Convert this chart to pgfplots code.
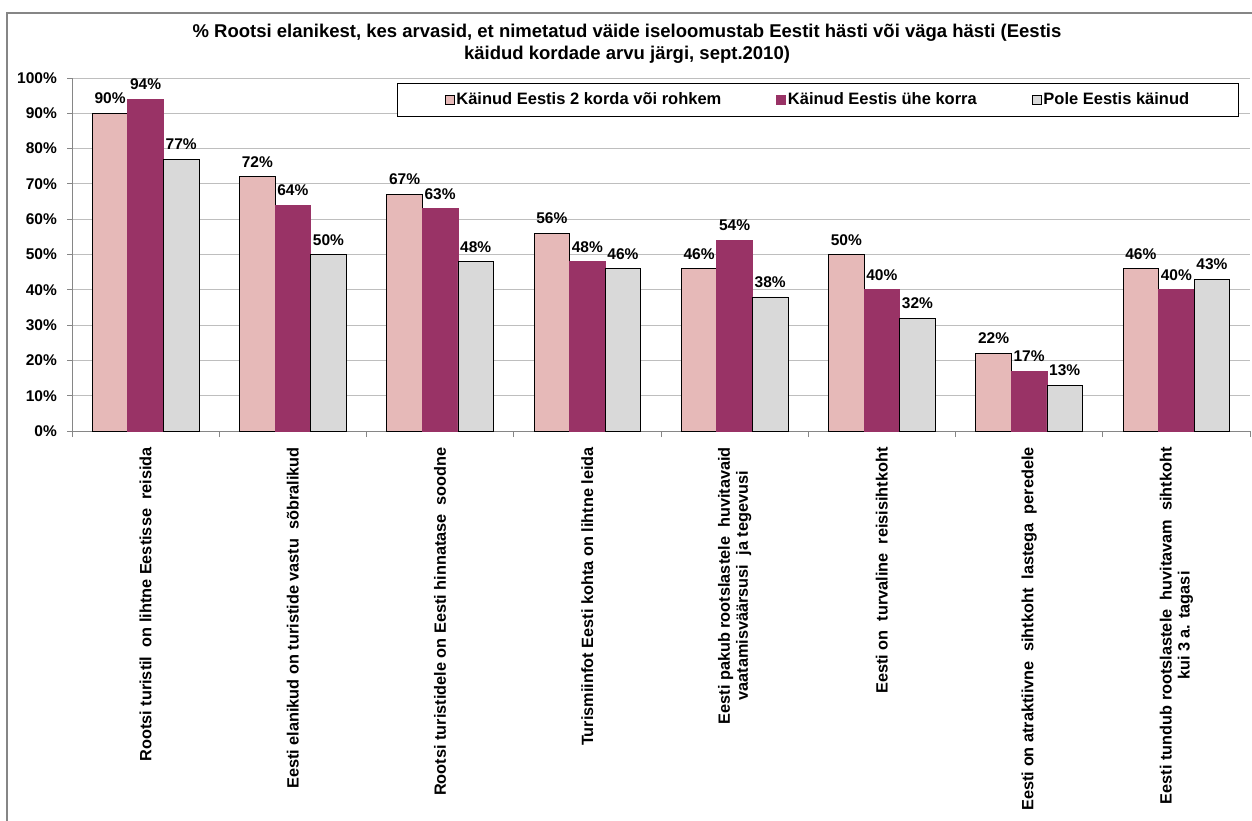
\documentclass[border=0pt]{standalone}
\usepackage{pgfplots}
\pgfplotsset{compat=1.18}
\usepackage{fontspec}
\setmainfont{Liberation Sans}
\definecolor{cpink}{HTML}{E6B9B8}
\definecolor{cmag}{HTML}{993366}
\definecolor{cgrey}{HTML}{D9D9D9}
\definecolor{cgrid}{HTML}{BEBEBE}
\definecolor{caxis}{HTML}{868686}
\begin{document}
\begin{tikzpicture}
\useasboundingbox (0,0) rectangle (1252bp,-821bp);
\fill[white] (0,0) rectangle (1252bp,-821bp);
\draw[caxis, line width=1.2bp] (7bp,-821bp) -- (7bp,-13bp) -- (1252bp,-13bp);
\node[font=\fontsize{18.5bp}{22bp}\selectfont\bfseries, align=center] at (627bp,-44bp)
 {\% Rootsi elanikest, kes arvasid, et nimetatud väide iseloomustab Eestit hästi või väga hästi (Eestis\\käidud kordade arvu järgi, sept.2010)};
\begin{axis}[
  at={(72bp,-431bp)}, anchor=south west,
  width=1178bp, height=353bp, scale only axis,
  xmin=-0.5, xmax=7.5, ymin=0, ymax=100,
  axis lines*=left,
  axis line style={draw=caxis, line width=1bp},
  ytick={0,10,...,100},
  yticklabels={0\%,10\%,20\%,30\%,40\%,50\%,60\%,70\%,80\%,90\%,100\%},
  ymajorgrids, grid style={draw=cgrid, line width=0.9bp},
  tick align=outside,
  major tick length=5bp,
  y tick style={draw=caxis, line width=0.9bp},
  xtick={0,...,7},
  major x tick style={draw=none},
  minor xtick={-0.5,0.5,...,7.5},
  minor tick length=6bp,
  minor x tick style={draw=caxis, line width=0.9bp},
  xticklabels={
    {Rootsi turistil\ \ on lihtne Eestisse\ \ reisida},
    {Eesti elanikud on turistide vastu\ \ sõbralikud},
    {Rootsi turistidele on Eesti hinnatase\ \ soodne},
    {Turismiinfot Eesti kohta on lihtne leida},
    {Eesti pakub rootslastele\ \ huvitavaid\\vaatamisväärsusi\ \ ja tegevusi},
    {Eesti on\ \ turvaline\ \ reisisihtkoht},
    {Eesti on atraktiivne\ \ sihtkoht\ \ lastega\ \ peredele},
    {Eesti tundub rootslastele\ \ huvitavam\ \ sihtkoht\\kui 3 a. tagasi}},
  xticklabel style={yshift=-11bp, rotate=90, anchor=east, align=center,
     font=\fontsize{16.3bp}{18bp}\selectfont\bfseries, inner sep=0pt},
  yticklabel style={font=\fontsize{15.5bp}{18bp}\selectfont\bfseries, inner sep=0pt, xshift=-10bp},
  ybar, bar width=0.2415,
  /pgf/number format/assume math mode=true,
  nodes near coords={\pgfmathprintnumber{\pgfplotspointmeta}\%},
  every node near coord/.append style={font=\fontsize{15.5bp}{18bp}\selectfont\bfseries, black, inner sep=0pt, yshift=9bp},
  legend style={at={(0.6333,0.939)}, anchor=center, legend columns=3,
    draw=black, line width=0.6bp, inner xsep=47bp, inner ysep=8bp,
    font=\fontsize{16.5bp}{18bp}\selectfont\bfseries,
    /tikz/every even column/.append style={column sep=53bp}},
  legend image code/.code={\draw[#1, line width=0.6bp] (0bp,-5bp) rectangle (9bp,4bp);},
]
\addplot[fill=cpink, draw=black, line width=0.7bp, bar shift=-0.2415] coordinates {(0,90) (1,72) (2,67) (3,56) (4,46) (5,50) (6,22) (7,46)};
\addplot[fill=cmag, draw=cmag, line width=0.7bp, bar shift=0] coordinates {(0,94) (1,64) (2,63) (3,48) (4,54) (5,40) (6,17) (7,40)};
\addplot[fill=cgrey, draw=black, line width=0.7bp, bar shift=0.2415] coordinates {(0,77) (1,50) (2,48) (3,46) (4,38) (5,32) (6,13) (7,43)};
\legend{Käinud Eestis 2 korda või rohkem, Käinud Eestis ühe korra, Pole Eestis käinud}
\end{axis}
\end{tikzpicture}
\end{document}
